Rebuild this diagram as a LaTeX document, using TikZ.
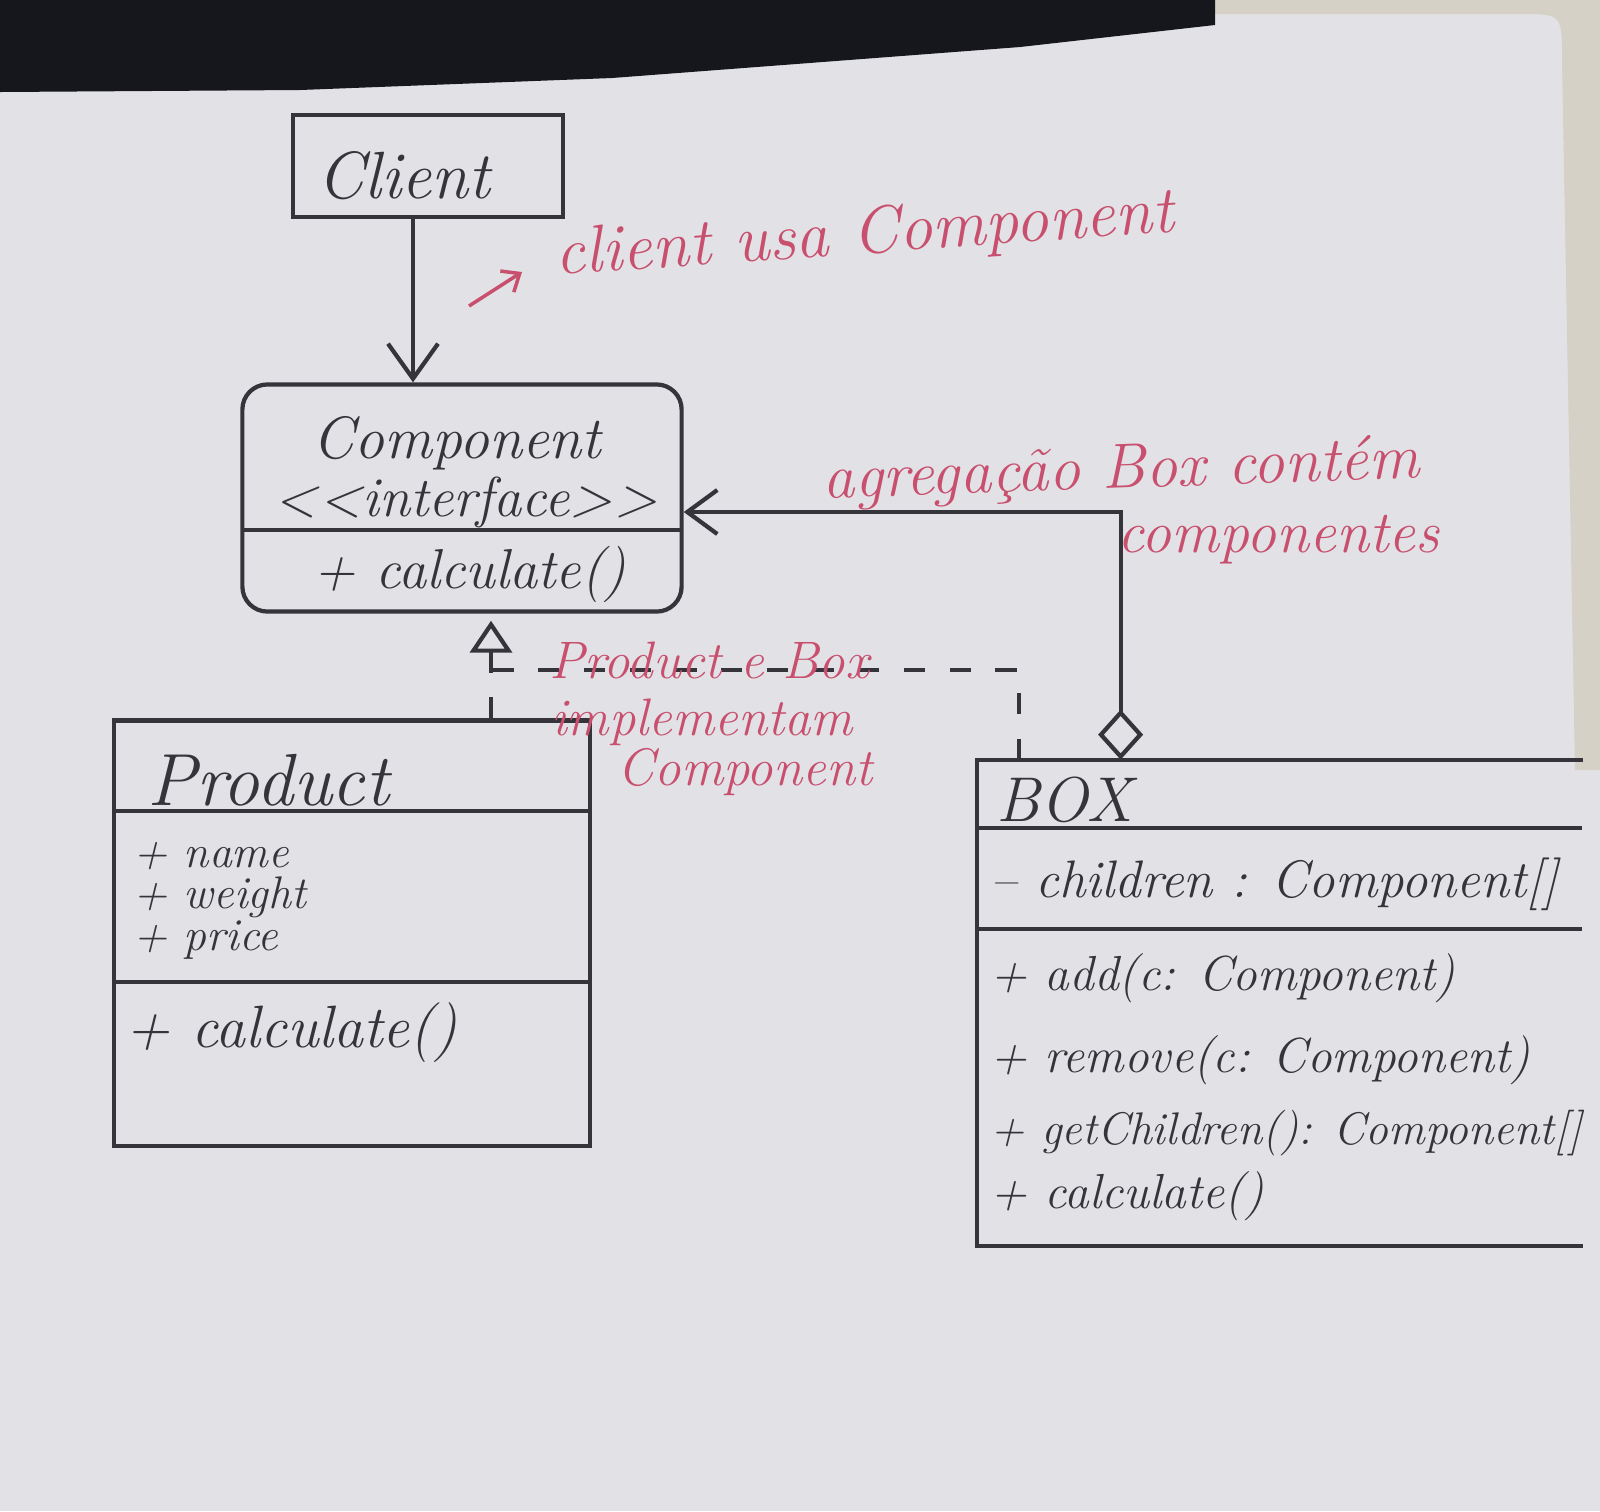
\documentclass[tikz,border=0pt]{standalone}
\usepackage{fontspec}
\usetikzlibrary{arrows.meta,calc}
\definecolor{paper}{HTML}{E2E2E6}
\definecolor{ink}{HTML}{34343A}
\definecolor{redink}{HTML}{C8506E}
\definecolor{band}{HTML}{15171C}
\definecolor{desk}{HTML}{D5D1C6}
\newcommand{\hw}[1]{\fontsize{#1}{#1}\selectfont\itshape}
\tikzset{
  pen/.style={draw=ink, line width=1.2pt},
  umlbox/.style={pen, rectangle, inner sep=0pt},
  hand/.style={text=ink, inner sep=0pt, font=\hw{16}},
  note/.style={text=redink, inner sep=0pt, font=\hw{17}},
  realize/.style={pen, dash pattern=on 6pt off 7pt},
  assoc/.style={pen, -{Straight Barb[length=3.5mm,width=5mm]}},
}
\begin{document}
\begin{tikzpicture}[x=0.01cm,y=-0.01cm]
\useasboundingbox (0,0) rectangle (1600,1511);
% paper, desk and dark band of the photo
\fill[paper] (0,0) rectangle (1600,1511);
\fill[desk] (1215,0) -- (1600,0) -- (1600,770) -- (1575,770) -- (1562,60)
  .. controls (1562,14) .. (1520,14) -- (1215,14) -- cycle;
\fill[band] (0,0) -- (1215,0) -- (1215,25) -- (1020,47) -- (612,78) -- (300,90) -- (0,92) -- cycle;

% Client
\node[umlbox, minimum width=2.70cm, minimum height=1.02cm] (client) at (428,166) {};
\node[hand, font=\hw{19}] (clientname) at (404,176) {Client};

% Component
\node[umlbox, rounded corners=0.25cm, minimum width=4.39cm, minimum height=2.27cm] (comp) at (462,498) {};
\draw[pen] (243,530) -- (682,530);
\node[hand, font=\hw{17}] (compname) at (457,443) {Component};
\node[hand] (compster) at (466,502) {<\kern0.6pt<interface>\kern0.6pt>};
\node[hand] (compop) at (470,574) {+ calculate()};

% Product
\node[umlbox, minimum width=4.75cm, minimum height=4.25cm] (prod) at (352,933) {};
\draw[pen] (115,811) -- (590,811);
\draw[pen] (115,982) -- (590,982);
\node[hand, font=\hw{21}] (prodname) at (268,780) {Product};
\node[hand, font=\hw{13}, anchor=west] (pa1) at (133,856) {+ name};
\node[hand, font=\hw{13}, anchor=west] (pa2) at (133,897) {+ weight};
\node[hand, font=\hw{13}, anchor=west] (pa3) at (133,940) {+ price};
\node[hand, font=\hw{17}, anchor=west] (pop) at (125,1033) {+ calculate()};

% Box
\node[inner sep=0pt, minimum width=6.05cm, minimum height=4.85cm] (box) at (1280,1003) {};
\draw[pen] (box.north east) -- (box.north west) -- (box.south west) -- (box.south east);
\draw[pen] (978,828) -- (1582,828);
\draw[pen] (978,929) -- (1582,929);
\node[hand, font=\hw{18}, anchor=west] (boxname) at (996,800) {BOX};
\node[hand, font=\hw{15}, anchor=west] (ba1) at (990,884) {-- children : Component[]};
\node[hand, font=\hw{14}, anchor=west] (bm1) at (990,978) {+ add(c: Component)};
\node[hand, font=\hw{14}, anchor=west] (bm2) at (990,1060) {+ remove(c: Component)};
\node[hand, font=\hw{13}, anchor=west] (bm3) at (990,1133) {+ getChildren(): Component[]};
\node[hand, font=\hw{14}, anchor=west] (bm4) at (990,1196) {+ calculate()};

% Client -> Component
\coordinate (cArrow) at ($(client.south)+(-15,0)$);
\draw[assoc] (cArrow) -- (cArrow |- comp.north);

% Product, Box realize Component
\coordinate (pTop) at ($(prod.north)+(139,0)$);
\coordinate (junc) at ($(pTop)+(0,-48)$);
\coordinate (bTop) at ($(box.north west)+(42,0)$);
\draw[realize, -{Triangle[fill=paper,length=3.2mm,width=4.2mm]}, shorten >=2pt] (pTop) -- (pTop |- comp.south);
\draw[realize] (bTop) |- (junc);

% Box aggregates Component
\coordinate (dTop) at ($(box.north west)+(144,0)$);
\coordinate (aggIn) at ($(comp.east)+(0,14)$);
\draw[pen, {Diamond[fill=paper,length=5mm,width=4.5mm]}-{Straight Barb[length=3mm,width=4.4mm]}] (dTop) |- (aggIn);

% red notes
\node[note, font=\hw{19}, rotate=4, anchor=west] (usa) at (555,258) {client usa Component};
\coordinate (noteTail) at (469,306);
\coordinate (noteHead) at (522,272);
\draw[redink, line width=1pt, -{Straight Barb[length=1.5mm,width=2.5mm]}] (noteTail) -- (noteHead);
\node[note, font=\hw{18}, rotate=2, anchor=east] (aggn1) at (1420,462) {agregação Box contém};
\node[note, anchor=east] (aggn2) at (1440,540) {componentes};
\node[note, font=\hw{15}] (impl1) at (709,660) {Product e Box};
\node[note, font=\hw{15}] (impl2) at (702,722) {implementam};
\node[note, font=\hw{15}] (impl3) at (745,772) {Component};
\end{tikzpicture}
\end{document}
